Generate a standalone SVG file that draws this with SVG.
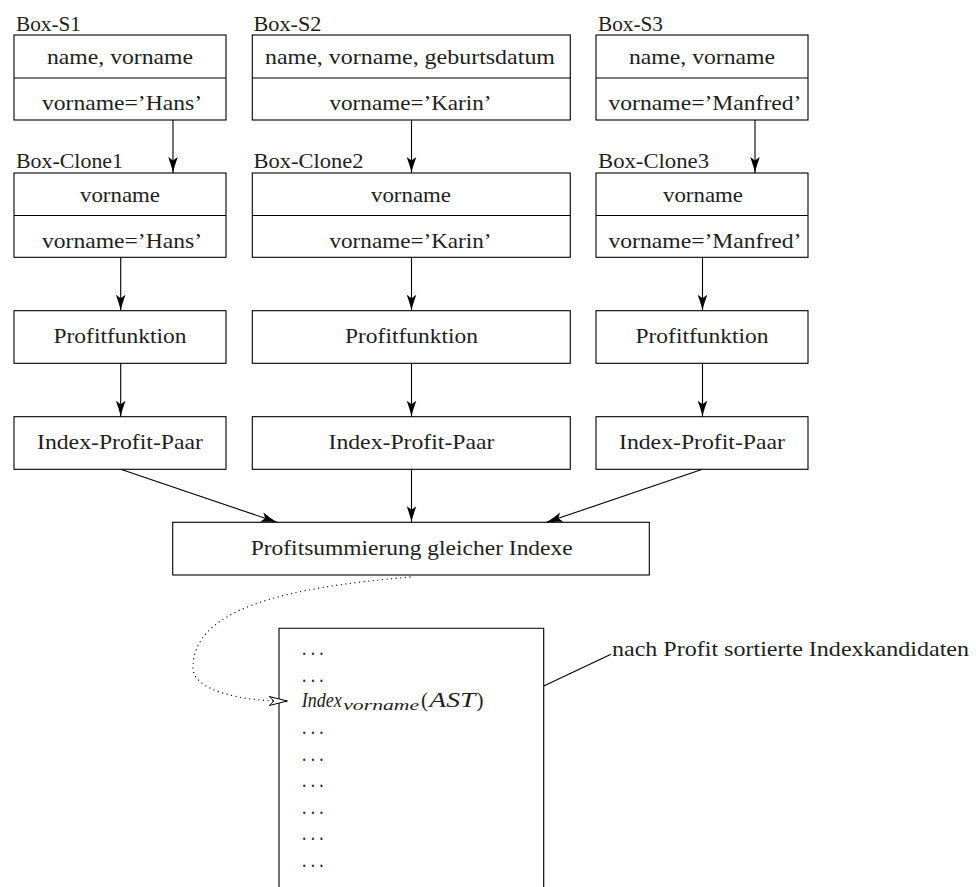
<svg xmlns="http://www.w3.org/2000/svg" width="976" height="887" viewBox="0 0 976 887">
  <style>
    .box { fill: #fff; stroke: #000; stroke-width: 1.1; }
    .sep { stroke: #000; stroke-width: 1.1; }
    .t { font-family: "Liberation Serif", "DejaVu Serif", serif; font-size: 21px; fill: #1e1e1e; }
    .c { text-anchor: middle; }
    .it { font-style: italic; }
    .sub { font-family: "Liberation Serif", "DejaVu Serif", serif; font-size: 14px; font-style: italic; fill: #1e1e1e; }
    .edge { fill: none; stroke: #000; stroke-width: 1.1; }
    .dotted { fill: none; stroke: #000; stroke-width: 1.3; stroke-linecap: round; stroke-dasharray: 0 4.6; }
  </style>
  <defs>
    <marker id="arrow" markerUnits="userSpaceOnUse" markerWidth="20" markerHeight="12" viewBox="-17 -6 18 12" refX="0" refY="0" orient="auto">
      <path d="M0,0 C-5,-1 -11,-3 -16,-4.8 L-12.5,0 L-16,4.8 C-11,3 -5,1 0,0 Z" fill="#000"/>
    </marker>
    <marker id="open" markerUnits="userSpaceOnUse" markerWidth="22" markerHeight="12" viewBox="-20 -6 21 12" refX="0" refY="0" orient="auto">
      <path d="M0,0 L-18,-4.5 L-13.5,0 L-18,4.5 Z" fill="#fff" stroke="#000" stroke-width="1"/>
    </marker>
  </defs>

  <!-- source boxes -->
  <g id="box-s1">
    <text class="t" x="16" y="31" textLength="65" lengthAdjust="spacingAndGlyphs">Box-S1</text>
    <rect class="box" x="14" y="35" width="212" height="85"/>
    <line class="sep" x1="14" y1="78" x2="226" y2="78"/>
    <text class="t c" x="120" y="64" textLength="146" lengthAdjust="spacingAndGlyphs">name, vorname</text>
    <text class="t c" x="122" y="110" textLength="160" lengthAdjust="spacingAndGlyphs">vorname=’Hans’</text>
  </g>
  <g id="box-s2">
    <text class="t" x="253.5" y="31" textLength="68" lengthAdjust="spacingAndGlyphs">Box-S2</text>
    <rect class="box" x="252.3" y="35" width="318" height="85"/>
    <line class="sep" x1="252.3" y1="78" x2="570.3" y2="78"/>
    <text class="t c" x="410" y="64" textLength="290" lengthAdjust="spacingAndGlyphs">name, vorname, geburtsdatum</text>
    <text class="t c" x="410.5" y="110" textLength="162" lengthAdjust="spacingAndGlyphs">vorname=’Karin’</text>
  </g>
  <g id="box-s3">
    <text class="t" x="598" y="31" textLength="65" lengthAdjust="spacingAndGlyphs">Box-S3</text>
    <rect class="box" x="596" y="35" width="212" height="85"/>
    <line class="sep" x1="596" y1="78" x2="808" y2="78"/>
    <text class="t c" x="702" y="64" textLength="146" lengthAdjust="spacingAndGlyphs">name, vorname</text>
    <text class="t c" x="705" y="110" textLength="193" lengthAdjust="spacingAndGlyphs">vorname=’Manfred’</text>
  </g>

  <!-- clone boxes -->
  <g id="box-clone1">
    <text class="t" x="16" y="168" textLength="107" lengthAdjust="spacingAndGlyphs">Box-Clone1</text>
    <rect class="box" x="14" y="173" width="212" height="84.3"/>
    <line class="sep" x1="14" y1="215.5" x2="226" y2="215.5"/>
    <text class="t c" x="120" y="202.3" textLength="80" lengthAdjust="spacingAndGlyphs">vorname</text>
    <text class="t c" x="122" y="248.3" textLength="160" lengthAdjust="spacingAndGlyphs">vorname=’Hans’</text>
  </g>
  <g id="box-clone2">
    <text class="t" x="253.5" y="168" textLength="110" lengthAdjust="spacingAndGlyphs">Box-Clone2</text>
    <rect class="box" x="252.3" y="173" width="318" height="84.3"/>
    <line class="sep" x1="252.3" y1="215.5" x2="570.3" y2="215.5"/>
    <text class="t c" x="411" y="202.3" textLength="80" lengthAdjust="spacingAndGlyphs">vorname</text>
    <text class="t c" x="410.5" y="248.3" textLength="162" lengthAdjust="spacingAndGlyphs">vorname=’Karin’</text>
  </g>
  <g id="box-clone3">
    <text class="t" x="598" y="168" textLength="111" lengthAdjust="spacingAndGlyphs">Box-Clone3</text>
    <rect class="box" x="596" y="173" width="212" height="84.3"/>
    <line class="sep" x1="596" y1="215.5" x2="808" y2="215.5"/>
    <text class="t c" x="703" y="202.3" textLength="80" lengthAdjust="spacingAndGlyphs">vorname</text>
    <text class="t c" x="705" y="248.3" textLength="193" lengthAdjust="spacingAndGlyphs">vorname=’Manfred’</text>
  </g>

  <!-- profit functions -->
  <g id="profit1">
    <rect class="box" x="14" y="310.7" width="212" height="52.6"/>
    <text class="t c" x="120" y="343.3" textLength="133" lengthAdjust="spacingAndGlyphs">Profitfunktion</text>
  </g>
  <g id="profit2">
    <rect class="box" x="252.3" y="310.7" width="318" height="52.6"/>
    <text class="t c" x="411.5" y="343.3" textLength="133" lengthAdjust="spacingAndGlyphs">Profitfunktion</text>
  </g>
  <g id="profit3">
    <rect class="box" x="596" y="310.7" width="212" height="52.6"/>
    <text class="t c" x="702" y="343.3" textLength="133" lengthAdjust="spacingAndGlyphs">Profitfunktion</text>
  </g>

  <!-- index/profit pairs -->
  <g id="pair1">
    <rect class="box" x="14" y="416.7" width="212" height="52.6"/>
    <text class="t c" x="120" y="449.3" textLength="166" lengthAdjust="spacingAndGlyphs">Index-Profit-Paar</text>
  </g>
  <g id="pair2">
    <rect class="box" x="252.3" y="416.7" width="318" height="52.6"/>
    <text class="t c" x="411.5" y="449.3" textLength="166" lengthAdjust="spacingAndGlyphs">Index-Profit-Paar</text>
  </g>
  <g id="pair3">
    <rect class="box" x="596" y="416.7" width="212" height="52.6"/>
    <text class="t c" x="702" y="449.3" textLength="166" lengthAdjust="spacingAndGlyphs">Index-Profit-Paar</text>
  </g>

  <!-- summation -->
  <g id="summation">
    <rect class="box" x="172.7" y="522.3" width="476.6" height="52.7"/>
    <text class="t c" x="411.7" y="555" textLength="322" lengthAdjust="spacingAndGlyphs">Profitsummierung gleicher Indexe</text>
  </g>

  <!-- ranked candidate list (open at the bottom) -->
  <g id="candidates">
    <path class="edge" d="M279,887 V628.3 H543.7 V887"/>
    <text class="t" x="302" y="655" textLength="21.6" lengthAdjust="spacingAndGlyphs">. . .</text>
    <text class="t" x="302" y="681.5" textLength="21.6" lengthAdjust="spacingAndGlyphs">. . .</text>
    <text class="t it" x="301.7" y="707" textLength="40" lengthAdjust="spacingAndGlyphs">Index</text>
    <text class="sub" x="343.2" y="710" textLength="76" lengthAdjust="spacingAndGlyphs">vorname</text>
    <text class="t" x="421" y="707">(</text>
    <text class="t it" x="429.3" y="707" textLength="46" lengthAdjust="spacingAndGlyphs">AST</text>
    <text class="t" x="476.5" y="707">)</text>
    <text class="t" x="302" y="734" textLength="21.6" lengthAdjust="spacingAndGlyphs">. . .</text>
    <text class="t" x="302" y="760.5" textLength="21.6" lengthAdjust="spacingAndGlyphs">. . .</text>
    <text class="t" x="302" y="787" textLength="21.6" lengthAdjust="spacingAndGlyphs">. . .</text>
    <text class="t" x="302" y="813.5" textLength="21.6" lengthAdjust="spacingAndGlyphs">. . .</text>
    <text class="t" x="302" y="840" textLength="21.6" lengthAdjust="spacingAndGlyphs">. . .</text>
    <text class="t" x="302" y="866.5" textLength="21.6" lengthAdjust="spacingAndGlyphs">. . .</text>
  </g>

  <g id="caption">
    <text class="t" x="612" y="656" textLength="357" lengthAdjust="spacingAndGlyphs">nach Profit sortierte Indexkandidaten</text>
  </g>

  <!-- connectors -->
  <g id="connectors">
    <line class="edge" x1="173" y1="120" x2="173" y2="173" marker-end="url(#arrow)"/>
    <line class="edge" x1="411.5" y1="120" x2="411.5" y2="173" marker-end="url(#arrow)"/>
    <line class="edge" x1="755" y1="120" x2="755" y2="173" marker-end="url(#arrow)"/>

    <line class="edge" x1="120.7" y1="257.3" x2="120.7" y2="310.7" marker-end="url(#arrow)"/>
    <line class="edge" x1="411.5" y1="257.3" x2="411.5" y2="310.7" marker-end="url(#arrow)"/>
    <line class="edge" x1="702.5" y1="257.3" x2="702.5" y2="310.7" marker-end="url(#arrow)"/>

    <line class="edge" x1="120.7" y1="363.3" x2="120.7" y2="416.7" marker-end="url(#arrow)"/>
    <line class="edge" x1="411.5" y1="363.3" x2="411.5" y2="416.7" marker-end="url(#arrow)"/>
    <line class="edge" x1="702.5" y1="363.3" x2="702.5" y2="416.7" marker-end="url(#arrow)"/>

    <line class="edge" x1="120.7" y1="469.3" x2="277" y2="522.3" marker-end="url(#arrow)"/>
    <line class="edge" x1="411.5" y1="469.3" x2="411.5" y2="522.3" marker-end="url(#arrow)"/>
    <line class="edge" x1="702.5" y1="469.3" x2="546.5" y2="522.3" marker-end="url(#arrow)"/>

    <path class="dotted" d="M410,577 C280,588 193,610 193,668 C193,690 240,701 283,701"/>
    <path class="edge" d="M283,701 H287.3" marker-end="url(#open)" stroke="none"/>

    <line class="edge" x1="543.7" y1="686" x2="611" y2="654.3"/>
  </g>
</svg>
